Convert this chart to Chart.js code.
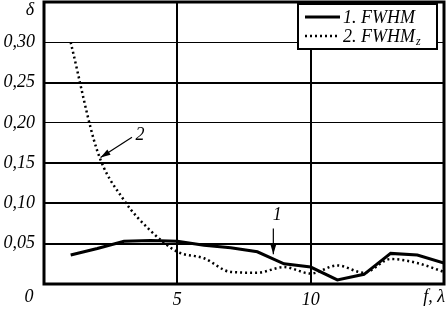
<!DOCTYPE html>
<html>
<head>
<meta charset="utf-8">
<script src="https://cdn.jsdelivr.net/npm/chart.js@4"></script>
<style>
html,body{margin:0;padding:0;background:#fff;}
</style>
</head>
<body>
<canvas id="chart" width="446" height="318"></canvas>
<script>
// DATA
const lambdas = [1, 2, 3, 4, 5, 6, 7, 8, 9, 10, 11, 12, 13, 14, 15];
const fwhm  = [0.036, 0.044, 0.053, 0.054, 0.053, 0.048, 0.045, 0.040, 0.025, 0.021, 0.005, 0.012, 0.038, 0.036, 0.026];
const fwhmZ = [0.300, 0.165, 0.104, 0.066, 0.040, 0.032, 0.015, 0.014, 0.021, 0.013, 0.023, 0.014, 0.031, 0.026, 0.015];
const xTickLabels = {5: '5', 10: '10'};
const yTickValues = [0.05, 0.10, 0.15, 0.20, 0.25, 0.30];

// annotation anchors, in data units: [tailX, tailY, tipX, tipY, labelX, labelY, text]
const arrows = [
  [3.3, 0.182, 2.12, 0.157, 3.6, 0.185, '2'],
  [8.6, 0.069, 8.6, 0.037, 8.75, 0.085, '1']
];

const FONT = '"Liberation Serif", "Times New Roman", serif';

function toPoints(ys){ return lambdas.map((l, i) => ({x: l, y: ys[i]})); }

function arrow(ctx, x1, y1, x2, y2){
  ctx.beginPath(); ctx.moveTo(x1, y1); ctx.lineTo(x2, y2); ctx.stroke();
  const ang = Math.atan2(y2 - y1, x2 - x1), L = 10, W = 3;
  ctx.beginPath();
  ctx.moveTo(x2, y2);
  ctx.lineTo(x2 - L*Math.cos(ang) + W*Math.sin(ang), y2 - L*Math.sin(ang) - W*Math.cos(ang));
  ctx.lineTo(x2 - L*Math.cos(ang) - W*Math.sin(ang), y2 - L*Math.sin(ang) + W*Math.cos(ang));
  ctx.closePath(); ctx.fill();
}

const decor = {
  id: 'decor',
  afterDraw(chart){
    const {ctx, chartArea: a, scales: {x, y}} = chart;
    ctx.save();
    ctx.strokeStyle = '#000'; ctx.fillStyle = '#000';
    // frame
    ctx.lineWidth = 3;
    ctx.strokeRect(a.left, a.top, a.right - a.left, a.bottom - a.top);
    // axis end labels
    ctx.font = 'italic 18px ' + FONT;
    ctx.textBaseline = 'middle';
    ctx.textAlign = 'right';
    ctx.fillText('δ', a.left - 10, a.top + 8);
    ctx.textAlign = 'center';
    ctx.fillText('0', a.left - 15, a.bottom + 13);
    ctx.textAlign = 'right';
    ctx.fillText('f, λ', a.right + 1, a.bottom + 13);
    // arrows with numbers
    ctx.lineWidth = 1.2;
    arrows.forEach(r => {
      arrow(ctx, x.getPixelForValue(r[0]), y.getPixelForValue(r[1]), x.getPixelForValue(r[2]), y.getPixelForValue(r[3]));
      ctx.textAlign = 'center';
      ctx.fillText(r[6], x.getPixelForValue(r[4]), y.getPixelForValue(r[5]));
    });
    // legend box
    const bx = a.right - 146, by = a.top + 2, bw = 139, bh = 45;
    ctx.fillStyle = '#fff';
    ctx.fillRect(bx, by, bw, bh);
    ctx.lineWidth = 2;
    ctx.strokeRect(bx, by, bw, bh);
    ctx.fillStyle = '#000';
    ctx.lineWidth = 3;
    ctx.beginPath(); ctx.moveTo(bx + 7, by + 13); ctx.lineTo(bx + 42, by + 13); ctx.stroke();
    ctx.lineWidth = 2.5; ctx.setLineDash([2, 3]);
    ctx.beginPath(); ctx.moveTo(bx + 7, by + 32); ctx.lineTo(bx + 42, by + 32); ctx.stroke();
    ctx.setLineDash([]);
    ctx.font = 'italic 18px ' + FONT;
    ctx.textAlign = 'left';
    ctx.fillText('1. FWHM', bx + 45, by + 14);
    ctx.fillText('2. FWHM', bx + 45, by + 33);
    const w = ctx.measureText('2. FWHM').width;
    ctx.font = 'italic 12px ' + FONT;
    ctx.fillText('z', bx + 46 + w, by + 38);
    ctx.restore();
  }
};

new Chart(document.getElementById('chart'), {
  type: 'line',
  data: {
    datasets: [
      {label: '1. FWHM', data: toPoints(fwhm), borderColor: '#000', borderWidth: 3, pointRadius: 0, tension: 0},
      {label: '2. FWHMz', data: toPoints(fwhmZ), borderColor: '#000', borderWidth: 2.5, borderDash: [2, 3], pointRadius: 0, cubicInterpolationMode: 'monotone'}
    ]
  },
  options: {
    responsive: false,
    devicePixelRatio: 1,
    animation: false,
    layout: {padding: {top: 2, right: 2, left: 0, bottom: 0}},
    plugins: {legend: {display: false}, tooltip: {enabled: false}},
    scales: {
      x: {
        type: 'linear', min: 0, max: 15,
        afterFit: s => { s.height = 34; s.paddingLeft = 0; s.paddingRight = 0; },
        afterBuildTicks: s => { s.ticks = [0, 5, 10, 15].map(v => ({value: v})); },
        border: {display: false},
        grid: {drawTicks: false, color: c => (c.tick && (c.tick.value === 5 || c.tick.value === 10)) ? '#000' : 'rgba(0,0,0,0)', lineWidth: 2},
        ticks: {color: '#000', padding: 5, maxRotation: 0, autoSkip: false, font: {family: FONT, size: 18, style: 'italic'},
          callback: v => xTickLabels[v] || ''}
      },
      y: {
        min: 0, max: 0.35,
        afterFit: s => { s.width = 44; s.paddingTop = 0; s.paddingBottom = 0; },
        afterBuildTicks: s => { s.ticks = [0].concat(yTickValues, [0.35]).map(v => ({value: v})); },
        border: {display: false},
        grid: {drawTicks: false,
          color: c => (c.tick && c.tick.value > 0.001 && c.tick.value < 0.34) ? '#000' : 'rgba(0,0,0,0)',
          lineWidth: c => (c.tick && (Math.abs(c.tick.value - 0.30) < 0.001 || Math.abs(c.tick.value - 0.20) < 0.001)) ? 1 : 2},
        ticks: {color: '#000', padding: 9, font: {family: FONT, size: 18, style: 'italic'},
          callback: v => (v > 0.001 && v < 0.34) ? v.toFixed(2).replace('.', ',') : ''}
      }
    }
  },
  plugins: [decor]
});
</script>
</body>
</html>
